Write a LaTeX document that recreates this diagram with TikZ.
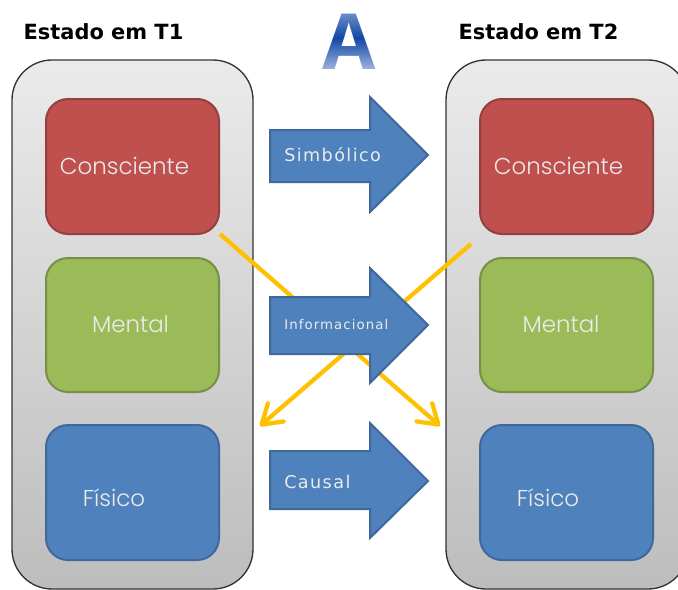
\documentclass[tikz,border=0pt]{standalone}
\usepackage{fontspec}
\setmainfont{Open Sans}
\newfontfamily\titlefont[BoldFont={DejaVu Sans Bold}]{DejaVu Sans}
\newfontfamily\arrowfont[LetterSpace=8]{DejaVu Sans}
\newfontfamily\labelfont{Poppins Light}
\newfontfamily\bigfont{Open Sans Bold}
\usetikzlibrary{fadings,arrows.meta}
\definecolor{redf}{HTML}{C0504D}
\definecolor{redd}{HTML}{94403E}
\definecolor{greenf}{HTML}{9BBB59}
\definecolor{greend}{HTML}{788F48}
\definecolor{bluef}{HTML}{4F81BD}
\definecolor{blued}{HTML}{41689A}
\definecolor{yell}{HTML}{FFC000}
\definecolor{bigblue}{HTML}{1248A8}
\tikzset{
  x=0.75pt,y=-0.75pt,
  panel/.style={draw=black!80,line width=1pt,rounded corners=30pt,top color=black!8,bottom color=black!26},
  inner/.style={rounded corners=16.5pt,line width=1.5pt},
  rbox/.style={inner,fill=redf,draw=redd},
  gbox/.style={inner,fill=greenf,draw=greend},
  bbox/.style={inner,fill=bluef,draw=blued},
  lab/.style={text=white!92!black,font=\labelfont\fontsize{17.2}{20}\selectfont,inner sep=0pt},
  arr/.style={fill=bluef,draw=blued,line width=1.5pt,miter limit=10},
  arrlab/.style={text=white!92!black,inner sep=0pt,anchor=west,font=\arrowfont\fontsize{13.2}{15}\selectfont},
  ttl/.style={inner sep=0pt,font=\titlefont\bfseries\fontsize{15.7}{18}\selectfont},
  cross/.style={draw=yell,line width=3.2pt,-{Straight Barb[length=14pt,width=18pt,round]}},
}
\begin{document}
\begin{tikzpicture}
\useasboundingbox (0,0) rectangle (678,589);
\clip (0,0) rectangle (678,589);
\fill[white] (0,0) rectangle (678,589);
\draw[panel] (12,60) rectangle (253,589);
\draw[panel] (446,60) rectangle (688,589);
\node[ttl] (t1) at (103.5,32) {Estado em T1};
\node[ttl] (t2) at (538.5,32) {Estado em T2};
\node[inner sep=0pt,text=bigblue,font=\bigfont\fontsize{58}{60}\selectfont] (bigA) at (349,41.5) {A};
\fill[white,path fading=south,opacity=.45] (320,8) rectangle (380,38);
\fill[white,path fading=north,opacity=.7] (320,38) rectangle (380,75);
\draw[rbox] (46,99) rectangle (219,234);
\draw[gbox] (46,258) rectangle (219,392);
\draw[bbox] (46,425) rectangle (219,560);
\draw[rbox] (480,99) rectangle (653,234);
\draw[gbox] (480,258) rectangle (653,392);
\draw[bbox] (480,425) rectangle (653,560);
\node[lab] (c1) at (124.5,166) {Consciente};
\node[lab] (m1) at (130.5,324) {Mental};
\node[lab] (f1) at (114,498) {Físico};
\node[lab] (c2) at (558.5,166) {Consciente};
\node[lab] (m2) at (561,324) {Mental};
\node[lab] (f2) at (548,498) {Físico};
\coordinate (la) at (220,234);
\coordinate (lb) at (440,426);
\coordinate (ra) at (471,244);
\coordinate (rb) at (260,426);
\draw[cross] (la) -- (lb);
\draw[cross] (ra) -- (rb);
\draw[arr] (270,130) -- (370,130) -- (370,97) -- (428,155) -- (370,212) -- (370,182) -- (270,182) -- cycle;
\draw[arr] (270,297) -- (370,297) -- (370,268) -- (428,325) -- (370,383) -- (370,354) -- (270,354) -- cycle;
\draw[arr] (270,451) -- (370,451) -- (370,423) -- (428,481) -- (370,538) -- (370,509) -- (270,509) -- cycle;
\node[arrlab] (s) at (284,155) {Simbólico};
\node[arrlab,font=\arrowfont\fontsize{10}{12}\selectfont] (i) at (284,325) {Informacional};
\node[arrlab] (ca) at (284,482) {Causal};
\end{tikzpicture}
\end{document}
